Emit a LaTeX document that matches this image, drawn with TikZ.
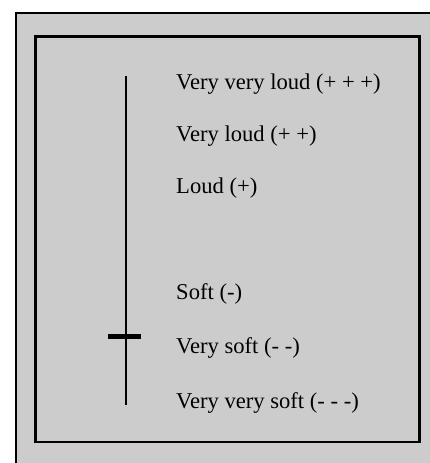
\documentclass[tikz,border=0pt]{standalone}
\usepackage{fontspec}
\setmainfont{Liberation Serif}
\usepackage{tikz}
\definecolor{panel}{RGB}{204,204,204}
\tikzset{frame/.style={draw=black,line width=2.6pt},
 level/.style={anchor=base west,inner sep=0pt,font=\fontsize{22.6}{27}\selectfont},
 every picture/.style={line join=miter,line cap=butt}}

\begin{document}
\begin{tikzpicture}[x=1pt,y=-1pt]
\useasboundingbox (0,0) rectangle (430,463);
\clip (0,0) rectangle (430,463);
\fill[white] (0,0) rectangle (430,463);
\draw[fill=panel,line width=2pt] (16,13) rectangle (445,480);
\draw[frame] (35.3,36.3) rectangle (419.3,442);
\coordinate (top) at (126,76);
\coordinate (bottom) at (126,405);
\draw[line width=2.2pt] (top) -- (bottom);
\coordinate (knobL) at (108,336.5);
\coordinate (knobR) at (141,336.5);
\draw[line width=5pt] (knobL) -- (knobR);
\node[level] (vvloud) at (176,89) {Very very loud (+ + +)};
\node[level] (vloud) at (176,141) {Very loud (+ +)};
\node[level] (loud) at (176,193) {Loud (+)};
\node[level] (soft) at (176,299) {Soft (-)};
\node[level] (vsoft) at (176,353) {Very soft (- -)};
\node[level] (vvsoft) at (176,408) {Very very soft (- - -)};
\end{tikzpicture}
\end{document}
